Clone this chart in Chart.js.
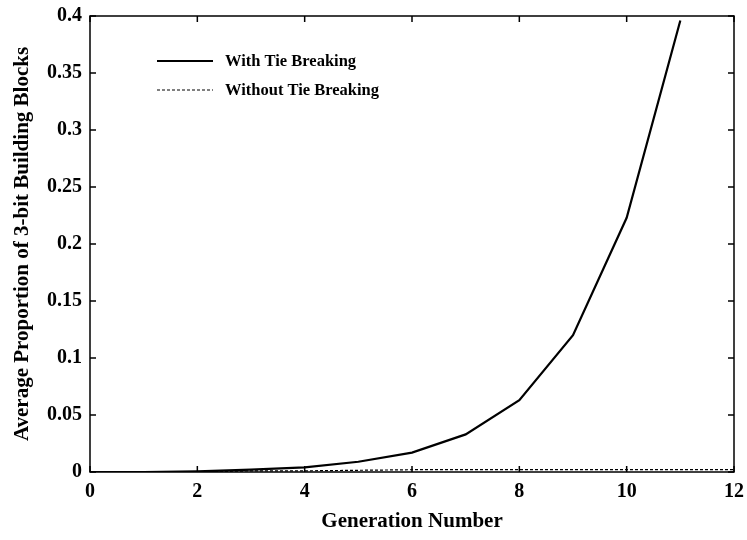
<!DOCTYPE html>
<html>
<head>
<meta charset="utf-8">
<script src="https://cdn.jsdelivr.net/npm/chart.js@4.4.0/dist/chart.umd.min.js"></script>
<style>
  html, body { margin: 0; padding: 0; background: #fff; }
  #wrap { width: 747px; height: 540px; }
</style>
</head>
<body>
<div id="wrap"><canvas id="genChart" width="747" height="540"></canvas></div>
<script>
// Chart data
var generations = [0, 1, 2, 3, 4, 5, 6, 7, 8, 9, 10, 11];
var withTieBreaking = [0, 0, 0.0005, 0.002, 0.004, 0.009, 0.017, 0.033, 0.063, 0.12, 0.223, 0.396];
var genWithout = [0, 1, 2, 3, 4, 5, 6, 7, 8, 9, 10, 11, 12];
var withoutTieBreaking = [0, 0, 0, 0.001, 0.001, 0.0015, 0.002, 0.002, 0.002, 0.002, 0.002, 0.002, 0.002];
var xTicks = [0, 2, 4, 6, 8, 10, 12];
var yTicks = [0, 0.05, 0.1, 0.15, 0.2, 0.25, 0.3, 0.35, 0.4];

var serif = "'Liberation Serif', 'DejaVu Serif', serif";

function toPoints(xs, ys) {
    return ys.map(function (v, i) { return { x: xs[i], y: v }; });
}

// frame, inward ticks and legend drawn inside the plot box
var framePlugin = {
    id: "frame",
    afterDraw: function (chart) {
        var c = chart.ctx, a = chart.chartArea;
        var xs = chart.scales.x, ys = chart.scales.y;
        c.save();
        c.strokeStyle = "#000";
        c.lineWidth = 1.5;
        c.strokeRect(a.left, a.top, a.right - a.left, a.bottom - a.top);
        c.beginPath();
        xTicks.forEach(function (t) {
            var px = xs.getPixelForValue(t);
            c.moveTo(px, a.bottom); c.lineTo(px, a.bottom - 6);
            c.moveTo(px, a.top); c.lineTo(px, a.top + 6);
        });
        yTicks.forEach(function (t) {
            var py = ys.getPixelForValue(t);
            c.moveTo(a.left, py); c.lineTo(a.left + 6, py);
            c.moveTo(a.right, py); c.lineTo(a.right - 6, py);
        });
        c.stroke();

        // legend
        c.font = "bold 16.5px " + serif;
        c.fillStyle = "#000";
        c.textBaseline = "middle";
        chart.data.datasets.forEach(function (ds, i) {
            var y = 61 + i * 29;
            c.beginPath();
            c.lineWidth = ds.borderWidth;
            c.setLineDash(ds.borderDash || []);
            c.moveTo(157, y); c.lineTo(213, y);
            c.stroke();
            c.setLineDash([]);
            c.fillText(ds.label, 225, y + 1);
        });
        c.restore();
    }
};

var ctx = document.getElementById("genChart");

var config = {
    type: "line",
    data: {
        datasets: [
            {
                label: "With Tie Breaking",
                data: toPoints(generations, withTieBreaking),
                borderColor: "#000",
                borderWidth: 2.2,
                pointRadius: 0,
                tension: 0,
            },
            {
                label: "Without Tie Breaking",
                data: toPoints(genWithout, withoutTieBreaking),
                borderColor: "#000",
                borderWidth: 1.2,
                borderDash: [3, 2],
                pointRadius: 0,
                tension: 0,
            },
        ],
    },
    options: {
        responsive: false,
        animation: false,
        layout: { padding: { top: 16, right: 13, left: 0, bottom: 0 } },
        plugins: {
            legend: { display: false },
            tooltip: { enabled: false },
        },
        scales: {
            x: {
                type: "linear",
                min: 0,
                max: 12,
                afterBuildTicks: function (s) { s.ticks = xTicks.map(function (v) { return { value: v }; }); },
                grid: { display: false },
                border: { display: false },
                ticks: {
                    color: "#000",
                    padding: 0,
                    maxRotation: 0,
                    font: { family: serif, size: 20, weight: "bold" },
                },
                title: {
                    display: true,
                    text: "Generation Number",
                    color: "#000",
                    padding: { top: 12, bottom: 6 },
                    font: { family: serif, size: 21, weight: "bold" },
                },
                afterFit: function (s) { s.height = 68; },
            },
            y: {
                min: 0,
                max: 0.4,
                afterBuildTicks: function (s) { s.ticks = yTicks.map(function (v) { return { value: v }; }); },
                grid: { display: false },
                border: { display: false },
                ticks: {
                    color: "#000",
                    padding: 0,
                    font: { family: serif, size: 20, weight: "bold" },
                    callback: function (v) { return String(Math.round(v * 100) / 100); },
                },
                title: {
                    display: true,
                    text: "Average Proportion of 3-bit Building Blocks",
                    color: "#000",
                    padding: { top: 10, bottom: 6 },
                    font: { family: serif, size: 21, weight: "bold" },
                },
                afterFit: function (s) { s.width = 90; },
            },
        },
    },
    plugins: [framePlugin],
};

var genChart = new Chart(ctx, config);
</script>
</body>
</html>
